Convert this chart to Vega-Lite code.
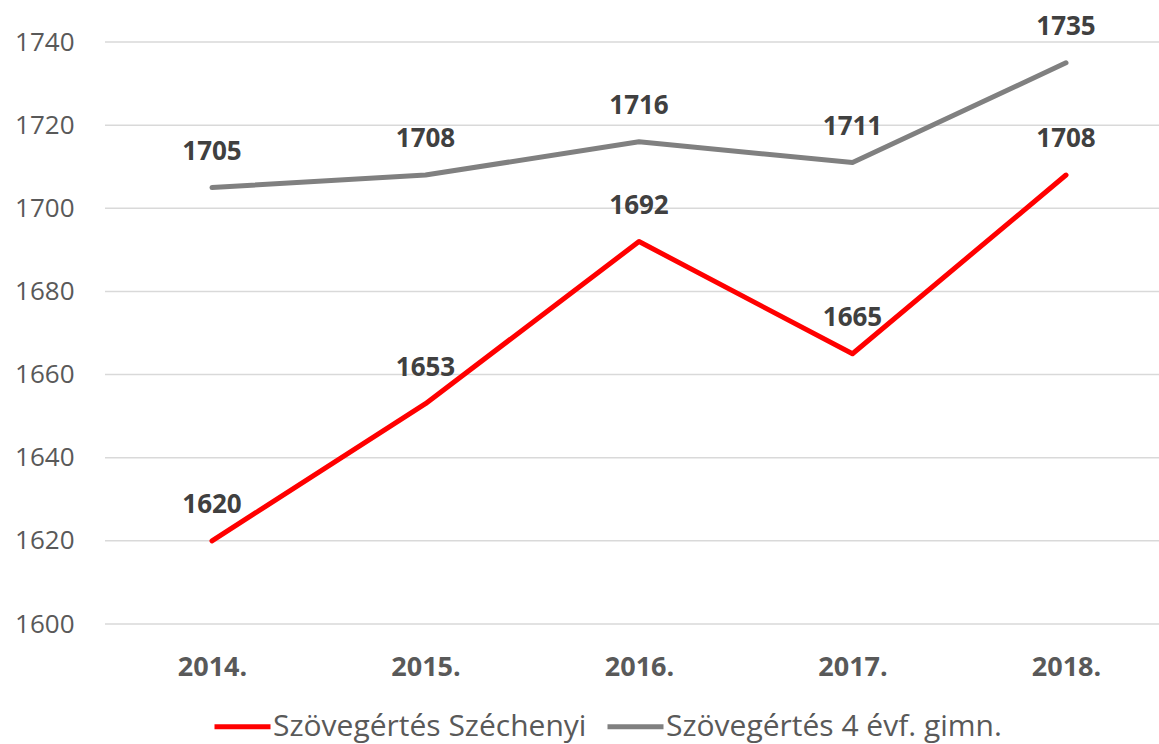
{
  "$schema": "https://vega.github.io/schema/vega-lite/v6.json",
  "autosize": {"type": "none"},
  "padding": {"left": 105, "top": 42, "right": 0, "bottom": 120},
  "width": 1054,
  "height": 582,
  "background": "white",
  "config": {
    "view": {"stroke": null},
    "font": "Open Sans"
  },
  "datasets": {
    "racs": [
      {"szint": 1600}, {"szint": 1620}, {"szint": 1640}, {"szint": 1660},
      {"szint": 1680}, {"szint": 1700}, {"szint": 1720}, {"szint": 1740}
    ],
    "adat": [
      {"ev": "2014.", "sorozat": "Szövegértés Széchenyi", "ertek": 1620},
      {"ev": "2015.", "sorozat": "Szövegértés Széchenyi", "ertek": 1653},
      {"ev": "2016.", "sorozat": "Szövegértés Széchenyi", "ertek": 1692},
      {"ev": "2017.", "sorozat": "Szövegértés Széchenyi", "ertek": 1665},
      {"ev": "2018.", "sorozat": "Szövegértés Széchenyi", "ertek": 1708},
      {"ev": "2014.", "sorozat": "Szövegértés 4 évf. gimn.", "ertek": 1705},
      {"ev": "2015.", "sorozat": "Szövegértés 4 évf. gimn.", "ertek": 1708},
      {"ev": "2016.", "sorozat": "Szövegértés 4 évf. gimn.", "ertek": 1716},
      {"ev": "2017.", "sorozat": "Szövegértés 4 évf. gimn.", "ertek": 1711},
      {"ev": "2018.", "sorozat": "Szövegértés 4 évf. gimn.", "ertek": 1735}
    ]
  },
  "layer": [
    {
      "data": {"name": "racs"},
      "mark": {"type": "rule", "color": "#D9D9D9", "strokeWidth": 1.5},
      "encoding": {
        "y": {
          "field": "szint", "type": "quantitative", "title": null,
          "scale": {"domain": [1600, 1740], "zero": false, "nice": false},
          "axis": {
            "values": [1600, 1620, 1640, 1660, 1680, 1700, 1720, 1740],
            "format": "d", "grid": false,
            "domain": false, "ticks": false,
            "labelFontSize": 26, "labelColor": "#595959", "labelPadding": 31,
            "labelFont": "Open Sans"
          }
        }
      }
    },
    {
      "data": {"name": "adat"},
      "encoding": {
        "x": {
          "field": "ev", "type": "ordinal", "title": null,
          "scale": {"type": "point", "range": [107, 961], "padding": 0},
          "axis": {
            "domain": false, "ticks": false, "grid": false,
            "labelAngle": 0, "labelFontSize": 27, "labelFontWeight": "bold",
            "labelColor": "#595959", "labelPadding": 30, "labelFont": "Open Sans"
          }
        },
        "y": {"field": "ertek", "type": "quantitative"}
      },
      "layer": [
        {
          "mark": {"type": "line", "strokeWidth": 5, "strokeCap": "round", "strokeJoin": "round"},
          "encoding": {
            "color": {
              "field": "sorozat", "type": "nominal",
              "scale": {
                "domain": ["Szövegértés Széchenyi", "Szövegértés 4 évf. gimn."],
                "range": ["#FF0000", "#808080"]
              },
              "legend": {
                "title": null, "orient": "none", "direction": "horizontal",
                "legendX": 107, "legendY": 654,
                "symbolType": "stroke", "symbolSize": 3136, "symbolStrokeWidth": 5,
                "labelFontSize": 30, "labelColor": "#595959", "labelOffset": 0,
                "columnPadding": 10, "labelFont": "Open Sans", "labelLimit": 500
              }
            }
          }
        },
        {
          "mark": {
            "type": "text", "dy": -36, "baseline": "middle",
            "fontSize": 26, "fontWeight": "bold", "color": "#404040", "font": "Open Sans"
          },
          "encoding": {
            "text": {"field": "ertek", "type": "quantitative"},
            "detail": {"field": "sorozat"}
          }
        }
      ]
    }
  ]
}
